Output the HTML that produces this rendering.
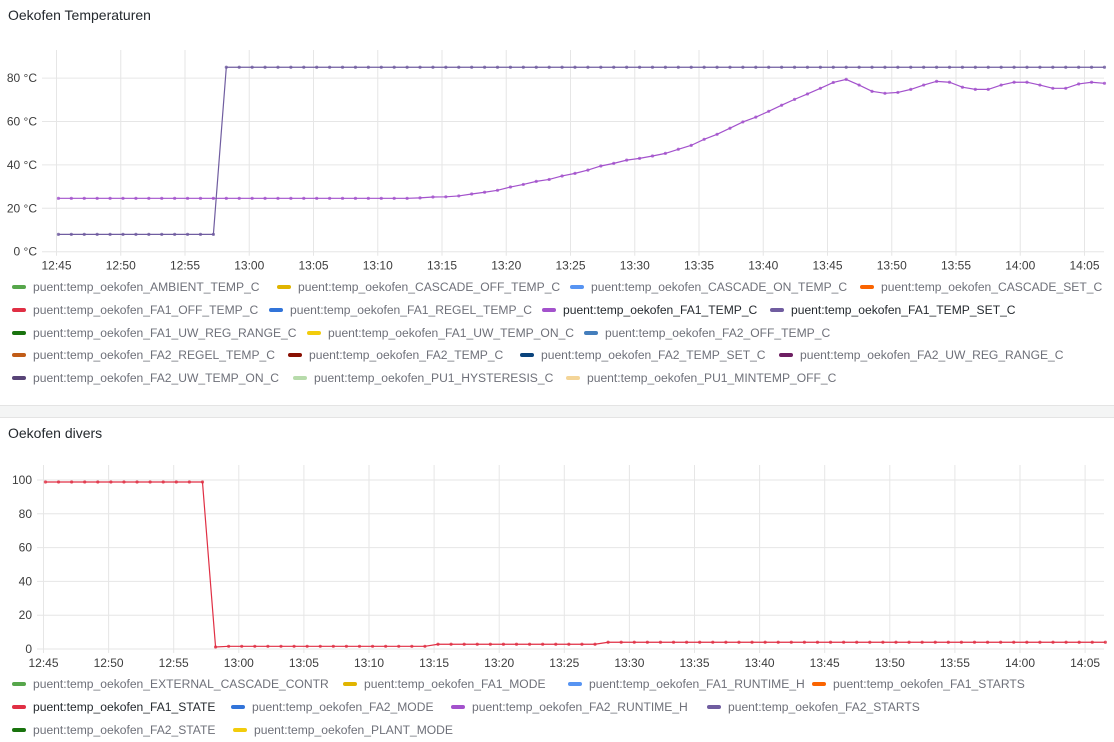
<!DOCTYPE html>
<html><head><meta charset="utf-8"><style>
body{margin:0;width:1114px;height:742px;overflow:hidden;background:#fff;font-family:"Liberation Sans",sans-serif;position:relative}
.title{position:absolute;left:8px;font-size:14px;color:#24292e;font-weight:500}
.sep{position:absolute;left:0;top:405px;width:1114px;height:11px;background:#f4f5f5;border-top:1px solid #e4e4e4;border-bottom:1px solid #e4e4e4}
.lg{position:absolute;font-size:12.1px;color:#6e7079;white-space:nowrap;line-height:14px}
.lg.on{color:#24292e}
.sw{position:absolute;width:14px;height:4px;border-radius:2px}
svg{position:absolute;left:0}
</style></head><body>
<div class="title" style="top:7px">Oekofen Temperaturen</div>
<svg id="c1" width="1114" height="280" style="top:0"></svg>
<div id="lg1"></div>
<div class="sep"></div>
<div class="title" style="top:425px">Oekofen divers</div>
<svg id="c2" width="1114" height="280" style="top:440px"></svg>
<div id="lg2"></div>
<script>
const timeTicks=["12:45","12:50","12:55","13:00","13:05","13:10","13:15","13:20","13:25","13:30","13:35","13:40","13:45","13:50","13:55","14:00","14:05"];
const tempTicks=[0,20,40,60,80];
const tempTickLabels=["0 °C","20 °C","40 °C","60 °C","80 °C"];
const diversTicks=[0,20,40,60,80,100];
const fa1TempSet=[8,8,8,8,8,8,8,8,8,8,8,8,8,85,85,85,85,85,85,85,85,85,85,85,85,85,85,85,85,85,85,85,85,85,85,85,85,85,85,85,85,85,85,85,85,85,85,85,85,85,85,85,85,85,85,85,85,85,85,85,85,85,85,85,85,85,85,85,85,85,85,85,85,85,85,85,85,85,85,85,85,85];
const fa1Temp=[24.6,24.6,24.6,24.6,24.6,24.6,24.6,24.6,24.6,24.6,24.6,24.6,24.6,24.6,24.6,24.6,24.6,24.6,24.6,24.6,24.6,24.6,24.6,24.6,24.6,24.6,24.6,24.6,24.8,25.2,25.3,25.7,26.6,27.4,28.3,29.8,31,32.4,33.3,34.9,36.1,37.6,39.5,40.7,42.2,43,44.1,45.3,47.2,49,51.8,54.1,56.9,59.8,62,64.7,67.5,70.2,72.7,75.3,78,79.4,76.8,73.9,73,73.4,74.8,76.8,78.5,78.1,75.8,74.8,74.8,76.8,78.1,78.1,76.8,75.3,75.3,77.3,78.1,77.6];
const fa1State=[98.8,98.8,98.8,98.8,98.8,98.8,98.8,98.8,98.8,98.8,98.8,98.8,98.8,1.2,1.6,1.6,1.6,1.6,1.6,1.6,1.6,1.6,1.6,1.6,1.6,1.6,1.6,1.6,1.6,1.6,2.8,2.8,2.8,2.8,2.8,2.8,2.8,2.8,2.8,2.8,2.8,2.8,2.8,4,4,4,4,4,4,4,4,4,4,4,4,4,4,4,4,4,4,4,4,4,4,4,4,4,4,4,4,4,4,4,4,4,4,4,4,4,4,4];
const NS="http://www.w3.org/2000/svg";
function mk(svg,tag,attrs){const e=document.createElementNS(NS,tag);for(const k in attrs)e.setAttribute(k,attrs[k]);svg.appendChild(e);return e;}
function chart(svg,o){
  const xs=m=>o.x0+m*o.pxMin, ys=v=>o.yb-(v-o.vmin)/(o.vmax-o.vmin)*(o.yb-o.yt);
  o.yTicks.forEach((v,i)=>{
    const l=mk(svg,'line',{x1:o.xl,x2:o.xr,y1:ys(v),y2:ys(v),stroke:'#e6e6e6'});
    
    
    const t=mk(svg,'text',{x:o.xl-5,y:ys(v)+4,'text-anchor':'end','font-size':12,fill:'#3d3d3d','font-family':'Liberation Sans, sans-serif'});
    t.textContent=o.yLabels[i];
    
    
  });
  timeTicks.forEach((lab,i)=>{
    const x=xs(i*5);
    const l=mk(svg,'line',{x1:x,x2:x,y1:o.gt,y2:o.yb+4,stroke:'#e6e6e6'});
    
    
    const t=mk(svg,'text',{x:x,y:o.yb+18,'text-anchor':'middle','font-size':12,fill:'#3d3d3d','font-family':'Liberation Sans, sans-serif'});
    t.textContent=lab;
    
    
  });
  o.series.forEach(s=>{
    const pts=s.data.map((v,k)=>[xs(0.15+k*1.005),ys(v)]);
    const p=mk(svg,'polyline',{points:pts.map(p=>p.join(',')).join(' '),fill:'none',stroke:s.color,'stroke-width':1.2});
    
    
    pts.forEach(pt=>{
      const c=mk(svg,'circle',{cx:pt[0],cy:pt[1],r:1.6,fill:s.color,opacity:0.8});
      
      
    });
  });
}
chart(document.getElementById('c1'),{x0:56.5,pxMin:12.85,xl:42,xr:1104,yt:65.3,yb:251.7,vmin:0,vmax:85.9,gt:50,yTicks:tempTicks,yLabels:tempTickLabels,
  series:[{data:fa1Temp,color:'#a352cc',name:'fa1-temp'},{data:fa1TempSet,color:'#705da0',name:'fa1-temp-set'}]});
chart(document.getElementById('c2'),{x0:43.5,pxMin:13.02,xl:37,xr:1104,yt:40,yb:209,vmin:0,vmax:100,gt:25,yTicks:diversTicks,yLabels:diversTicks.map(String),
  series:[{data:fa1State,color:'#e02f44',name:'fa1-state'}]});
function legend(host,rows,top0,dy){
  rows.forEach((row,r)=>row.forEach(it=>{
    const d=document.createElement('div');
    d.className='lg'+(it[3]?' on':'');
    d.style.left=it[0]+'px';d.style.top=(top0+r*dy)+'px';
    d.textContent=it[1];
    
    
    const s=document.createElement('div');
    s.className='sw';s.style.left=(it[0]-21)+'px';s.style.top=(top0+r*dy+5)+'px';s.style.background=it[2];
    
    
    host.appendChild(s);host.appendChild(d);
  }));
}
legend(document.getElementById('lg1'),[
 [[33,'puent:temp_oekofen_AMBIENT_TEMP_C','#56a64b'],[298,'puent:temp_oekofen_CASCADE_OFF_TEMP_C','#e0b400'],[591,'puent:temp_oekofen_CASCADE_ON_TEMP_C','#5794f2'],[881,'puent:temp_oekofen_CASCADE_SET_C','#fa6400']],
 [[33,'puent:temp_oekofen_FA1_OFF_TEMP_C','#e02f44'],[290,'puent:temp_oekofen_FA1_REGEL_TEMP_C','#3274d9'],[563,'puent:temp_oekofen_FA1_TEMP_C','#a352cc',1],[791,'puent:temp_oekofen_FA1_TEMP_SET_C','#705da0',1]],
 [[33,'puent:temp_oekofen_FA1_UW_REG_RANGE_C','#19730e'],[328,'puent:temp_oekofen_FA1_UW_TEMP_ON_C','#f2cc0c'],[605,'puent:temp_oekofen_FA2_OFF_TEMP_C','#447ebc']],
 [[33,'puent:temp_oekofen_FA2_REGEL_TEMP_C','#c15c17'],[309,'puent:temp_oekofen_FA2_TEMP_C','#890f02'],[541,'puent:temp_oekofen_FA2_TEMP_SET_C','#0a437c'],[800,'puent:temp_oekofen_FA2_UW_REG_RANGE_C','#6d1f62']],
 [[33,'puent:temp_oekofen_FA2_UW_TEMP_ON_C','#584477'],[314,'puent:temp_oekofen_PU1_HYSTERESIS_C','#b7dbab'],[587,'puent:temp_oekofen_PU1_MINTEMP_OFF_C','#f4d598']]
],280,22.8);
legend(document.getElementById('lg2'),[
 [[33,'puent:temp_oekofen_EXTERNAL_CASCADE_CONTR','#56a64b'],[364,'puent:temp_oekofen_FA1_MODE','#e0b400'],[589,'puent:temp_oekofen_FA1_RUNTIME_H','#5794f2'],[833,'puent:temp_oekofen_FA1_STARTS','#fa6400']],
 [[33,'puent:temp_oekofen_FA1_STATE','#e02f44',1],[252,'puent:temp_oekofen_FA2_MODE','#3274d9'],[472,'puent:temp_oekofen_FA2_RUNTIME_H','#a352cc'],[728,'puent:temp_oekofen_FA2_STARTS','#705da0']],
 [[33,'puent:temp_oekofen_FA2_STATE','#19730e'],[254,'puent:temp_oekofen_PLANT_MODE','#f2cc0c']]
],677,23);
</script>
</body></html>
